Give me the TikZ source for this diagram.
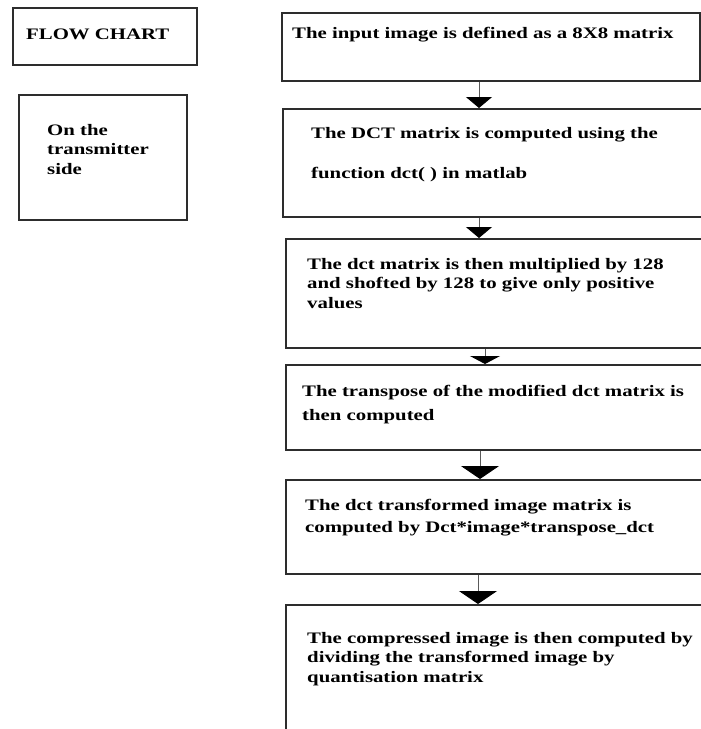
\documentclass[tikz,border=0pt]{standalone}
\usepackage{fontspec}
\setmainfont{Liberation Serif}[FakeStretch=1.3]
\usepackage{tikz}
\usetikzlibrary{arrows.meta,positioning}
\definecolor{boxline}{RGB}{45,45,45}
\definecolor{stemgray}{RGB}{90,90,90}
\tikzset{
    % boxes of the flow chart
    stepbox/.style={
        rectangle, draw=boxline, line width=1.5pt,
        anchor=north west, inner sep=0pt
    },
    % text set in the boxes (placed by the baseline of its last line)
    steptext/.style={
        anchor=base west, align=left, inner sep=0pt,
        font=\bfseries\fontsize{16}{19.5}\selectfont
    },
    % arrows between boxes
    flowarrow/.style={-{Triangle[width=26pt,length=11pt,color=black]}, line width=0.9pt, stemgray},
    thinarrow/.style={-{Triangle[width=30pt,length=8pt,color=black]}, line width=0.9pt, stemgray},
    widearrow/.style={-{Triangle[width=38pt,length=13pt,color=black]}, line width=0.9pt, stemgray},
}

\begin{document}
\begin{tikzpicture}[x=1pt,y=-1pt]
      \useasboundingbox (0,0) rectangle (701,729);
      \clip (0,0) rectangle (701,729);
      % left column
      \node[stepbox,minimum width=184pt,minimum height=57pt] (title) at (12,7) {};
      \node[steptext] (titletext) at (26,39) {FLOW CHART};
      \node[stepbox,minimum width=168pt,minimum height=125pt] (side) at (18,94) {};
      \node[steptext] (sidetext) at (47,174) {On the\\transmitter\\side};
      % right column
      \node[stepbox,minimum width=418pt,minimum height=68pt] (step1) at (281,12) {};
      \node[stepbox,minimum width=440pt,minimum height=108pt] (step2) at (282,108) {};
      \node[stepbox,minimum width=440pt,minimum height=109pt] (step3) at (285,238) {};
      \node[stepbox,minimum width=440pt,minimum height=85pt] (step4) at (285,364) {};
      \node[stepbox,minimum width=440pt,minimum height=94pt] (step5) at (285,479) {};
      \node[stepbox,minimum width=440pt,minimum height=160pt] (step6) at (285,604) {};
      \node[steptext] (text1) at (292,38) {The input image is defined as a 8X8 matrix};
      \node[steptext] (text2) at (311,178) {The DCT matrix is computed using the\\[20.5pt]function dct( ) in matlab};
      \node[steptext] (text3) at (307,308) {The dct matrix is then multiplied by 128\\and shofted by 128 to give only positive\\values};
      \node[steptext] (text4) at (302,420) {The transpose of the modified dct matrix is\\[4.5pt]then computed};
      \node[steptext] (text5) at (305,532) {The dct transformed image matrix is\\[2.5pt]computed by Dct*image*transpose\_dct};
      \node[steptext] (text6) at (307,682) {The compressed image is then computed by\\dividing the transformed image by\\quantisation matrix};
      % connectors
      \draw[flowarrow] (step1.south -| 479,0) -- (step2.north -| 479,0);
      \draw[flowarrow] (step2.south -| 479,0) -- (step3.north -| 479,0);
      \draw[thinarrow] (step3.south -| 485,0) -- (step4.north -| 485,0);
      \draw[widearrow] (step4.south -| 480,0) -- (step5.north -| 480,0);
      \draw[widearrow] (step5.south -| 478,0) -- (step6.north -| 478,0);
\end{tikzpicture}
\end{document}
